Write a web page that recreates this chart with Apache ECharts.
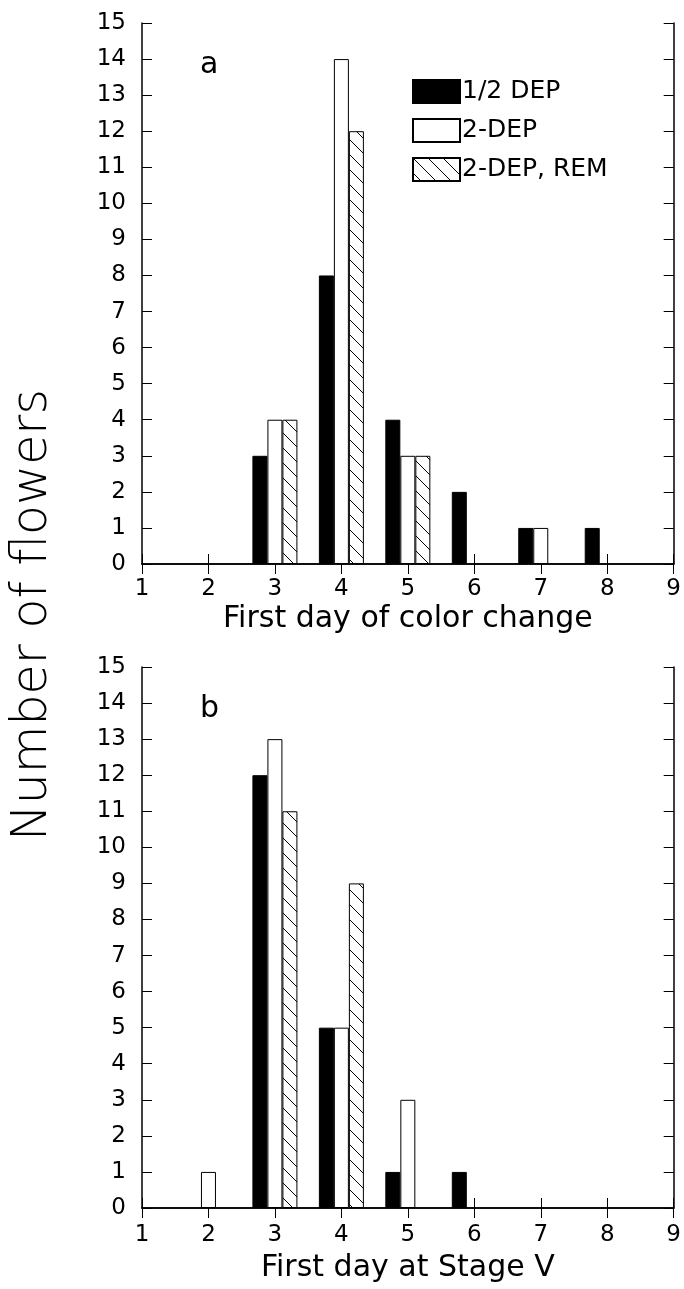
<!DOCTYPE html>
<html>
<head>
<meta charset="utf-8">
<script src="https://cdn.jsdelivr.net/npm/echarts@6/dist/echarts.min.js"></script>
<style>
  html, body { margin: 0; padding: 0; background: #fff; }
  #chart { width: 684px; height: 1289px; }
</style>
</head>
<body>
<div id="chart"></div>
<script>
// days on the x axis that carry bars
const days = [2, 3, 4, 5, 6, 7, 8]
const seriesNames = ['1/2 DEP', '2-DEP', '2-DEP, REM']

// panel a: first day of color change
const aHalfDep = [0, 3, 8, 4, 2, 1, 1]
const aTwoDep = [0, 4, 14, 3, 0, 1, 0]
const aTwoDepRem = [0, 4, 12, 3, 0, 0, 0]

// panel b: first day at Stage V
const bHalfDep = [0, 12, 5, 1, 1, 0, 0]
const bTwoDep = [1, 13, 5, 3, 0, 0, 0]
const bTwoDepRem = [0, 11, 9, 0, 0, 0, 0]

const FONT = 'DejaVu Sans'

function hatch() {
  const c = document.createElement('canvas')
  c.width = 15
  c.height = 15
  const g = c.getContext('2d')
  g.fillStyle = '#fff'
  g.fillRect(0, 0, 15, 15)
  g.strokeStyle = '#000'
  g.lineWidth = 1
  g.beginPath()
  g.moveTo(-2, -2)
  g.lineTo(17, 17)
  g.stroke()
  return c
}

const fills = ['#000', '#fff', { image: hatch(), repeat: 'repeat' }]

function pairs(vals) {
  // skip empty days so no flat bar is drawn
  return days.map((d, i) => [d, vals[i]]).filter(p => p[1] > 0)
}

const lineStyle = { color: '#000', width: 1.5 }
const tick = { inside: true, length: 10, lineStyle: { color: '#000', width: 1 } }

function axesFor(gi, title, labelMargin, nameGap) {
  const x = [
    {
      type: 'value', gridIndex: gi, min: 1, max: 9, interval: 1, position: 'bottom',
      axisLine: { lineStyle: lineStyle },
      axisTick: tick,
      axisLabel: { color: '#000', fontFamily: FONT, fontSize: 23, margin: labelMargin },
      splitLine: { show: false },
      name: title, nameLocation: 'middle', nameGap: nameGap,
      nameTextStyle: { color: '#000', fontFamily: FONT, fontSize: 30 }
    },
    {
      type: 'value', gridIndex: gi, min: 1, max: 9, interval: 1, position: 'top',
      axisLine: { lineStyle: lineStyle },
      axisTick: tick,
      axisLabel: { show: false },
      splitLine: { show: false }
    }
  ]
  const y = [
    {
      type: 'value', gridIndex: gi, min: 0, max: 15, interval: 1, position: 'left',
      axisLine: { show: true, lineStyle: lineStyle },
      axisTick: Object.assign({ show: true }, tick),
      axisLabel: { color: '#000', fontFamily: FONT, fontSize: 23, margin: 16 },
      splitLine: { show: false }
    },
    {
      type: 'value', gridIndex: gi, min: 0, max: 15, interval: 1, position: 'right',
      axisLine: { show: true, lineStyle: lineStyle },
      axisTick: Object.assign({ show: true }, tick),
      axisLabel: { show: false },
      splitLine: { show: false }
    }
  ]
  return { x, y }
}

function barsFor(gi, lists) {
  return lists.map((vals, k) => ({
    name: seriesNames[k],
    type: 'bar',
    xAxisIndex: gi * 2,
    yAxisIndex: gi * 2,
    barWidth: 15,
    barGap: '0%',
    itemStyle: { color: fills[k], borderColor: '#000', borderWidth: 1 },
    emphasis: { disabled: true },
    data: pairs(vals)
  }))
}

const axA = axesFor(0, 'First day of color change', 14, 40)
const axB = axesFor(1, 'First day at Stage V', 16, 45)

const chart = echarts.init(document.getElementById('chart'), null, { renderer: 'canvas' })
chart.setOption({
  backgroundColor: '#fff',
  animation: false,
  textStyle: { fontFamily: FONT },
  grid: [
    { left: 142, top: 23, width: 535, height: 541 },
    { left: 142, top: 667, width: 535, height: 541 }
  ],
  xAxis: axA.x.concat(axB.x),
  yAxis: axA.y.concat(axB.y),
  legend: {
    data: seriesNames,
    orient: 'vertical',
    left: 407,
    top: 74,
    itemWidth: 47,
    itemHeight: 23,
    itemGap: 14,
    icon: 'rect',
    selectedMode: false,
    textStyle: { color: '#000', fontFamily: FONT, fontSize: 25, padding: [0, 0, 0, -3] }
  },
  graphic: [
    {
      type: 'text', left: 200, top: 50,
      style: { text: 'a', font: '30px "DejaVu Sans"', fill: '#000' }
    },
    {
      type: 'text', left: 200, top: 694,
      style: { text: 'b', font: '30px "DejaVu Sans"', fill: '#000' }
    },
    {
      type: 'text', x: 33, y: 615, rotation: Math.PI / 2,
      style: {
        text: 'Number of flowers', font: '200 49px "DejaVu Sans"', fill: '#000',
        align: 'center', verticalAlign: 'middle'
      }
    }
  ],
  series: barsFor(0, [aHalfDep, aTwoDep, aTwoDepRem]).concat(barsFor(1, [bHalfDep, bTwoDep, bTwoDepRem]))
})
</script>
</body>
</html>
